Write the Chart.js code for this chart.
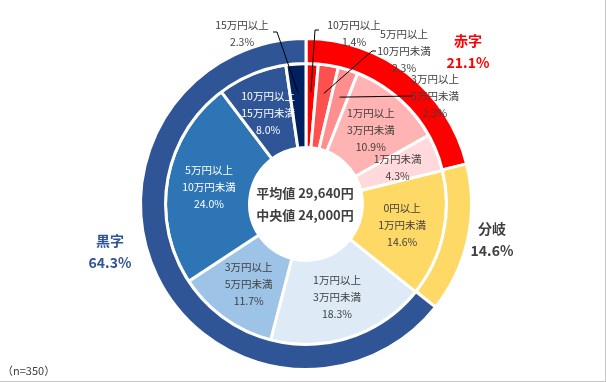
<!DOCTYPE html>
<html>
<head>
<meta charset="utf-8">
<script src="https://cdn.jsdelivr.net/npm/chart.js@4"></script>
<style>
  html, body { margin: 0; padding: 0; background: #fff; }
  #wrap { position: relative; width: 606px; height: 382px; }
</style>
</head>
<body>
<div id="wrap"><canvas id="chartRing" width="606" height="382"></canvas></div>
<script>
// outer ring: 赤字 / 分岐 / 黒字
const outerLabels = ['赤字', '分岐', '黒字'];
const outerValues = [21.1, 14.6, 64.3];

// inner ring, clockwise from the top
const innerLabels = [
  ['10万円以上'],
  ['5万円以上', '10万円未満'],
  ['3万円以上', '5万円未満'],
  ['1万円以上', '3万円未満'],
  ['1万円未満'],
  ['0円以上', '1万円未満'],
  ['1万円以上', '3万円未満'],
  ['3万円以上', '5万円未満'],
  ['5万円以上', '10万円未満'],
  ['10万円以上', '15万円未満'],
  ['15万円以上']
];
const innerValues = [1.4, 2.3, 2.3, 10.9, 4.3, 14.6, 18.3, 11.7, 24.0, 8.0, 2.3];

const centerLines = ['平均値 29,640円', '中央値 24,000円'];
const sampleNote = '（n=350）';

const outerColors = ['#FF0000', '#FFD966', '#2F5597'];
const innerColors = ['#FF0000', '#FF5050', '#FF8F8F', '#FFB3B3', '#FFD9DB', '#FFD966',
  '#DEEBF7', '#9DC3E6', '#2E75B6', '#2F5597', '#002060'];
const whiteText = [8, 9];

const fontFamily = "'Noto Sans CJK JP', 'Noto Sans', sans-serif";
const darkText = '#404040';

// small slices get a label outside plus a leader line
const callouts = {
  0: { x: 354, y: 25, path: [[319, 30], [315, 30]] },
  1: { x: 404, y: 34, path: [[376, 51], [372, 51]] },
  2: { x: 435, y: 79, path: [[412, 96]] },
  10: { x: 242, y: 25, path: [[273, 32], [277, 32]] }
};
const outerPos = [
  { x: 468, y: 41, color: '#FF0000' },
  { x: 492, y: 229, color: '#404040' },
  { x: 110, y: 241, color: '#2F5597' }
];

const labelPlugin = {
  id: 'ringLabels',
  afterDraw(chart) {
    const ctx = chart.ctx;
    const arcs = chart.getDatasetMeta(1).data;
    ctx.save();
    ctx.textAlign = 'center';
    ctx.textBaseline = 'middle';

    arcs.forEach((arc, i) => {
      const lines = innerLabels[i].concat([innerValues[i].toFixed(1) + '%']);
      ctx.font = '10.5px ' + fontFamily;
      const co = callouts[i];
      if (co) {
        const mid = (arc.startAngle + arc.endAngle) / 2;
        const ax = arc.x + Math.cos(mid) * 112;
        const ay = arc.y + Math.sin(mid) * 112;
        ctx.strokeStyle = '#000';
        ctx.lineWidth = 1;
        ctx.beginPath();
        co.path.forEach((p, k) => k ? ctx.lineTo(p[0], p[1]) : ctx.moveTo(p[0], p[1]));
        ctx.lineTo(ax, ay);
        ctx.stroke();
        ctx.fillStyle = darkText;
        lines.forEach((t, k) => ctx.fillText(t, co.x, co.y + k * 17));
      } else {
        const pos = arc.tooltipPosition();
        ctx.fillStyle = whiteText.includes(i) ? '#fff' : darkText;
        const top = pos.y - (lines.length - 1) * 17 / 2;
        lines.forEach((t, k) => ctx.fillText(t, pos.x, top + k * 17));
      }
    });

    ctx.font = 'bold 14px ' + fontFamily;
    outerLabels.forEach((name, i) => {
      const p = outerPos[i];
      ctx.fillStyle = p.color;
      ctx.fillText(name, p.x, p.y);
      ctx.fillText(outerValues[i].toFixed(1) + '%', p.x, p.y + 22);
    });

    const c = arcs[0];
    ctx.fillStyle = darkText;
    ctx.font = 'bold 13px ' + fontFamily;
    ctx.fillText(centerLines[0], c.x - 1, c.y - 11);
    ctx.fillText(centerLines[1], c.x - 1, c.y + 11);

    ctx.textAlign = 'left';
    ctx.font = '11px ' + fontFamily;
    ctx.fillStyle = darkText;
    ctx.fillText(sampleNote, 2, 371);

    // frame lines on the right and bottom
    ctx.fillStyle = '#C6C6C6';
    ctx.fillRect(605, 0, 1, 382);
    ctx.fillRect(0, 381, 606, 1);
    ctx.restore();
  }
};

new Chart(document.getElementById('chartRing'), {
  type: 'doughnut',
  data: {
    datasets: [
      {
        data: outerValues,
        backgroundColor: outerColors,
        borderColor: '#fff',
        borderWidth: 3,
        hoverBorderWidth: 3,
        weight: 25
      },
      {
        data: innerValues,
        backgroundColor: innerColors,
        borderColor: '#fff',
        borderWidth: 3,
        hoverBorderWidth: 3,
        weight: 84
      }
    ]
  },
  options: {
    responsive: false,
    animation: false,
    cutout: '34.1%',
    layout: { padding: { top: 37, bottom: 11, left: 139, right: 133 } },
    events: [],
    plugins: { legend: { display: false }, tooltip: { enabled: false } }
  },
  plugins: [labelPlugin]
});
</script>
</body>
</html>
